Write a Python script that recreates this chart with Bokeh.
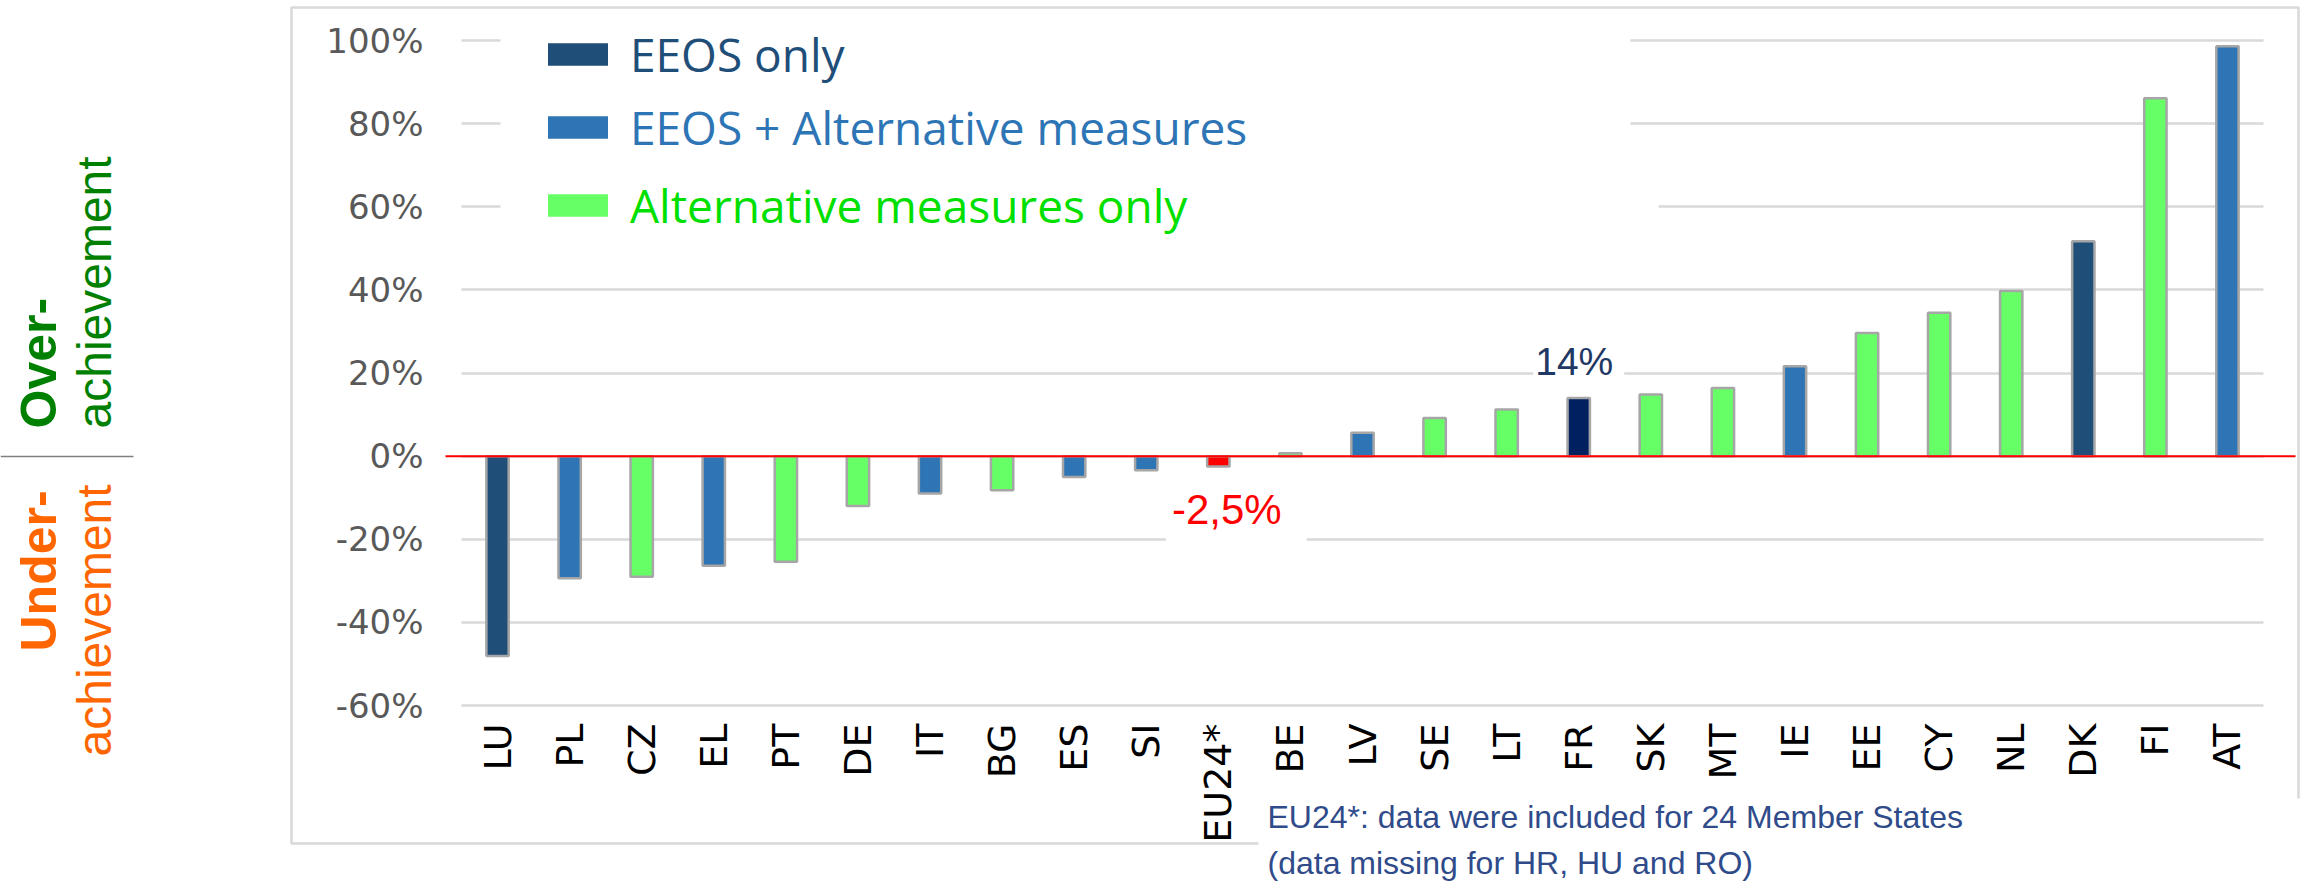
import math
from bokeh.plotting import figure
from bokeh.models import (Range1d, ColumnDataSource, FixedTicker, NumeralTickFormatter,
                          BoxAnnotation, Label, Legend, LegendItem, Grid)
from bokeh.embed import file_html
from bokeh.resources import INLINE

# ---------------- data ----------------
countries = ["LU", "PL", "CZ", "EL", "PT", "DE", "IT", "BG", "ES", "SI", "EU24*", "BE",
             "LV", "SE", "LT", "FR", "SK", "MT", "IE", "EE", "CY", "NL", "DK", "FI", "AT"]
achievement = [-0.481, -0.294, -0.290, -0.264, -0.254, -0.120, -0.090, -0.082, -0.050,
               -0.034, -0.025, 0.007, 0.056, 0.092, 0.112, 0.140, 0.148, 0.164, 0.216,
               0.296, 0.345, 0.397, 0.517, 0.861, 0.986]
measure_type = ["EEOS", "EEOS+ALT", "ALT", "EEOS+ALT", "ALT", "ALT", "EEOS+ALT", "ALT",
                "EEOS+ALT", "EEOS+ALT", "EU", "ALT", "EEOS+ALT", "ALT", "ALT", "EEOS",
                "ALT", "ALT", "EEOS+ALT", "ALT", "ALT", "ALT", "EEOS", "ALT", "EEOS+ALT"]
highlighted = "FR"
average = "EU24*"
legend_labels = {"EEOS": "EEOS only",
                 "EEOS+ALT": "EEOS + Alternative measures",
                 "ALT": "Alternative measures only"}
y_ticks = [-0.6, -0.4, -0.2, 0.0, 0.2, 0.4, 0.6, 0.8, 1.0]
footnote = ["EU24*: data were included for 24 Member States",
            "(data missing for HR, HU and RO)"]

# ---------------- styles / geometry ----------------
type_colors = {"EEOS": "#1f4e79", "EEOS+ALT": "#2e75b6", "ALT": "#66ff66", "EU": "#ff0000"}
legend_text_colors = {"EEOS": "#1f4e79", "EEOS+ALT": "#2e75b6", "ALT": "#00e000"}
highlight_color = "#002060"

W, H = 2315, 883
FL, FRt, FT, FB = 461, 2263, 40, 705    # plot-area edges in pixels
Y0, Y1 = -0.6, 1.0
n = len(countries)
unit = (FRt - FL) / n


def dx(px):
    return (px - FL) / unit - 0.5


def dy(py):
    return Y1 - (py - FT) / ((FB - FT) / (Y1 - Y0))


positions = list(range(n))
colors = [highlight_color if c == highlighted else type_colors[t]
          for c, t in zip(countries, measure_type)]
src = ColumnDataSource(dict(pos=positions, country=countries, value=achievement,
                            color=colors, kind=measure_type))

p = figure(width=W, height=H, x_range=Range1d(dx(0), dx(W)), y_range=Range1d(dy(H), dy(0)),
           output_backend="svg", toolbar_location=None, min_border=0)
p.title.visible = False
p.outline_line_color = None
p.background_fill_color = "white"
p.border_fill_color = "white"

# outer chart box
p.add_layout(BoxAnnotation(left=dx(291), right=dx(2298), top=dy(7), bottom=dy(843),
                           fill_alpha=0, line_color="#d9d9d9", line_alpha=1, line_width=2.5,
                           level="underlay"))

# grid
p.xgrid.visible = False
if "cross_bounds" in Grid.properties():
    p.ygrid.ticker = FixedTicker(ticks=y_ticks)
    p.ygrid.cross_bounds = (-0.5, n - 0.5)
    p.ygrid.grid_line_color = "#d9d9d9"
    p.ygrid.grid_line_width = 2.5
else:
    p.ygrid.visible = False
    p.segment(x0=-0.5, x1=n - 0.5, y0=y_ticks, y1=y_ticks, line_color="#d9d9d9",
              line_width=2.5, level="underlay")

# bars: fills, then outlines
bars = p.vbar(x="pos", top="value", bottom=0, width=0.31, fill_color="color",
              line_alpha=0, source=src)
p.vbar(x="pos", top="value", bottom=0, width=0.31, fill_alpha=0,
       line_color="#a6a6a6", line_width=2.5, source=src)

# axes (fixed at the plot-area edges)
p.xaxis.fixed_location = Y0
p.yaxis.fixed_location = -0.5
p.xaxis.ticker = FixedTicker(ticks=positions)
p.xaxis.major_label_overrides = {i: c for i, c in zip(positions, countries)}
p.yaxis.ticker = FixedTicker(ticks=y_ticks)
p.yaxis.formatter = NumeralTickFormatter(format="0%")
for ax in (p.xaxis, p.yaxis):
    ax.axis_line_color = None
    ax.major_tick_line_color = None
    ax.minor_tick_line_color = None
    ax.major_tick_out = 0
    ax.major_tick_in = 0
    ax.major_label_text_font = "DejaVu Sans"
p.yaxis.major_label_standoff = 38
p.yaxis.major_label_text_font_size = "34px"
p.yaxis.major_label_text_color = "#595959"
p.xaxis.major_label_orientation = math.pi / 2
p.xaxis.major_label_standoff = 18
p.xaxis.major_label_text_font_size = "38px"
p.xaxis.major_label_text_color = "#000000"

# red zero line
p.add_layout(BoxAnnotation(left=dx(445), right=dx(2295), top=0, bottom=0, fill_alpha=0,
                           line_color="#ff0000", line_alpha=1, line_width=2))

# white covers (legend area, footnote area)
p.add_layout(BoxAnnotation(left=dx(500), right=dx(1630), top=dy(13), bottom=dy(235),
                           fill_color="white", fill_alpha=1, line_alpha=0))
p.add_layout(BoxAnnotation(left=dx(1625), right=dx(1658), top=dy(180), bottom=dy(235),
                           fill_color="white", fill_alpha=1, line_alpha=0))
p.add_layout(BoxAnnotation(left=dx(1258), right=dx(W + 5), top=dy(798), bottom=dy(H + 5),
                           fill_color="white", fill_alpha=1, line_alpha=0))

# legends (one per entry, so each label keeps its own colour)
legend_vy = [798, 725, 647]
for k, (key, lbl) in enumerate(legend_labels.items()):
    idx = measure_type.index(key)
    lg = Legend(items=[LegendItem(label=lbl, renderers=[bars], index=idx)],
                location=(540, legend_vy[k]),
                glyph_width=75, glyph_height=28, label_standoff=15,
                label_text_font="Open Sans", label_text_font_size="46px",
                label_text_color=legend_text_colors[key], padding=0, margin=0,
                spacing=0, border_line_alpha=0, background_fill_alpha=0)
    p.add_layout(lg)

# value labels
i_eu = countries.index(average)
p.add_layout(Label(x=positions[i_eu], y=achievement[i_eu], x_offset=18, y_offset=-51,
                   text=f"{achievement[i_eu] * 100:.1f}%".replace(".", ","),
                   text_align="center", text_baseline="alphabetic",
                   text_font="Liberation Sans", text_font_size="42px", text_color="#ff0000",
                   background_fill_color="white", padding=(6, 25, 8, 25)))
i_fr = countries.index(highlighted)
p.add_layout(Label(x=positions[i_fr], y=achievement[i_fr], y_offset=32,
                   text=f"{round(achievement[i_fr] * 100)}%",
                   text_align="center", text_baseline="alphabetic",
                   text_font="Liberation Sans", text_font_size="39px", text_color="#1f3864",
                   background_fill_color="white", padding=(2, 11, 2, 11)))

# footnote
for line, py in zip(footnote, [816, 862]):
    p.add_layout(Label(x=dx(1267), y=dy(py), text=line, text_align="left",
                       text_baseline="alphabetic", text_font="Liberation Sans",
                       text_font_size="32px", text_color="#2f4b8a"))

# side captions
p.add_layout(BoxAnnotation(left=dx(0), right=dx(133), top=dy(456), bottom=dy(456),
                           fill_alpha=0, line_color="#808080", line_alpha=1, line_width=1.5))
side = [("Over-", 38, 428, "bold", "50px", "#008000"),
        ("achievement", 94, 428, "normal", "48px", "#008000"),
        ("Under-", 38, 651, "bold", "50px", "#ff6600"),
        ("achievement", 94, 756, "normal", "48px", "#ff6600")]
for txt, px, py, style, size, col in side:
    p.add_layout(Label(x=dx(px), y=dy(py), text=txt, angle=math.pi / 2,
                       text_align="left", text_baseline="alphabetic",
                       text_font="Liberation Sans", text_font_style=style,
                       text_font_size=size, text_color=col))

open("out.html", "w").write(file_html(p, INLINE))
